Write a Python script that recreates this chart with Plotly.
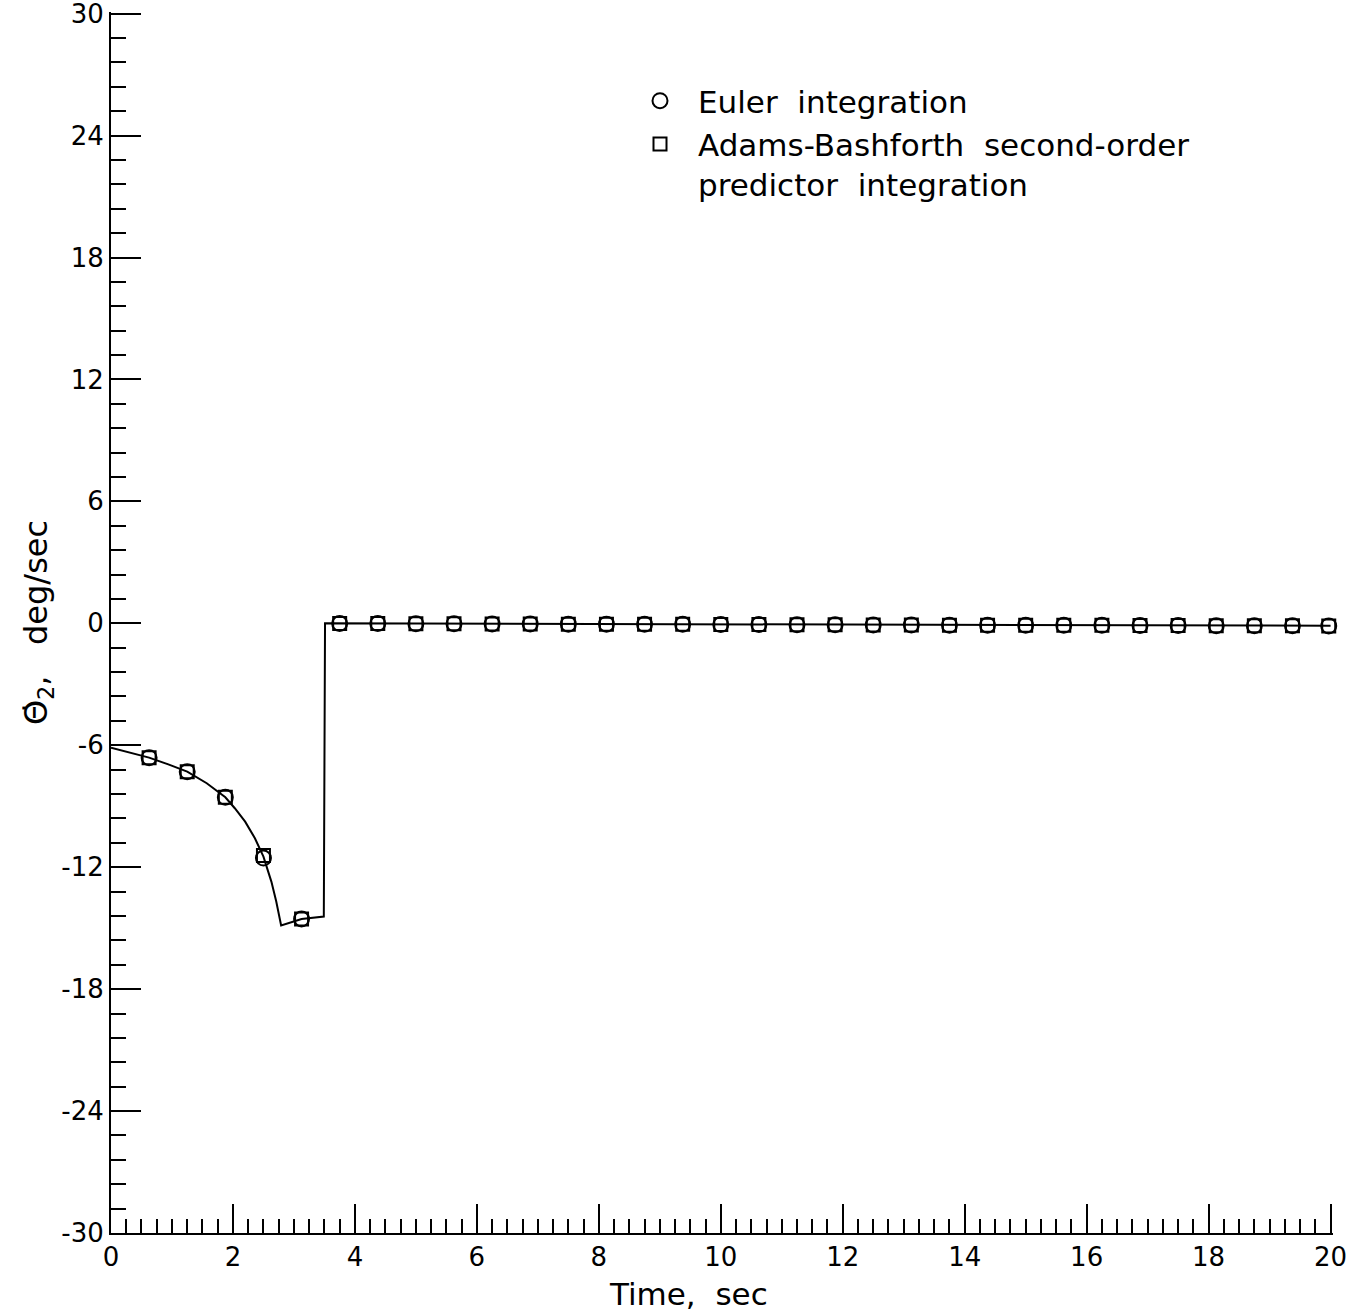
import plotly.graph_objects as go

# ---- data ----
curve_t = [0.0, 0.625, 0.94, 1.25, 1.57, 1.875, 2.03, 2.2, 2.36, 2.5, 2.63, 2.71, 2.79,
           3.125, 3.49, 3.51, 20.0]
curve_y = [-6.12, -6.61, -6.94, -7.30, -7.87, -8.56, -9.10, -9.76, -10.58, -11.48, -12.71,
           -13.69, -14.87, -14.55, -14.43, 0.0, -0.12]

marker_t = [0.625, 1.25, 1.875, 2.5, 3.125, 3.75, 4.375, 5.0, 5.625, 6.25, 6.875, 7.5,
            8.125, 8.75, 9.375, 10.0, 10.625, 11.25, 11.875, 12.5, 13.125, 13.75, 14.375,
            15.0, 15.625, 16.25, 16.875, 17.5, 18.125, 18.75, 19.375, 19.97]
euler_y = [-6.61, -7.30, -8.56, -11.55, -14.55, -0.01, -0.01, -0.02, -0.02, -0.03, -0.03,
           -0.04, -0.04, -0.05, -0.05, -0.06, -0.06, -0.07, -0.07, -0.08, -0.08, -0.09,
           -0.09, -0.10, -0.10, -0.10, -0.11, -0.11, -0.12, -0.12, -0.12, -0.13]
ab2_y = [-6.61, -7.30, -8.56, -11.42, -14.55, -0.01, -0.01, -0.02, -0.02, -0.03, -0.03,
         -0.04, -0.04, -0.05, -0.05, -0.06, -0.06, -0.07, -0.07, -0.08, -0.08, -0.09,
         -0.09, -0.10, -0.10, -0.10, -0.11, -0.11, -0.12, -0.12, -0.12, -0.13]

series_names = ["Euler\u00a0\u00a0integration",
                "Adams-Bashforth\u00a0\u00a0second-order<br>predictor\u00a0\u00a0integration"]

x_ticks = [0, 2, 4, 6, 8, 10, 12, 14, 16, 18, 20]
x_tick_text = ["0", "2", "4", "6", "8", "10", "12", "14", "16", "18", "20"]
y_ticks = [-30, -24, -18, -12, -6, 0, 6, 12, 18, 24, 30]
y_tick_text = ["-30", "-24", "-18", "-12", "-6", "0", "6", "12", "18", "24", "30"]

FONT = "DejaVu Sans"

fig = go.Figure()
fig.add_trace(go.Scatter(x=curve_t, y=curve_y, mode="lines",
                         line=dict(color="black", width=2), showlegend=False,
                         hoverinfo="skip"))
fig.add_trace(go.Scatter(x=marker_t, y=euler_y, mode="markers", name=series_names[0],
                         cliponaxis=False,
                         marker=dict(symbol="circle-open", size=15, color="black",
                                     line=dict(width=2, color="black"))))
fig.add_trace(go.Scatter(x=marker_t, y=ab2_y, mode="markers", name=series_names[1],
                         cliponaxis=False,
                         marker=dict(symbol="square-open", size=13, color="black",
                                     line=dict(width=2, color="black"))))

fig.update_layout(
    width=1366, height=1315,
    margin=dict(l=111, r=33, t=12, b=82, autoexpand=False),
    paper_bgcolor="white", plot_bgcolor="white",
    font=dict(family=FONT, color="black", size=26),
    showlegend=True,
    legend=dict(x=(622 - 111) / 1222, y=1 - (74 - 12) / 1221, xanchor="left", yanchor="top",
                font=dict(family=FONT, size=31, color="black"), itemwidth=66,
                bgcolor="rgba(0,0,0,0)", valign="top", tracegroupgap=0),
    annotations=[dict(text="Time,\u00a0\u00a0sec", xref="paper", yref="paper",
                      x=(688 - 111) / 1222, y=-(1294 - 1233) / 1221,
                      xanchor="center", yanchor="middle", showarrow=False,
                      font=dict(family=FONT, size=31, color="black"))],
)

fig.update_xaxes(range=[0, 20.04], showline=True, linecolor="black", linewidth=2,
                 mirror=False, showgrid=False, zeroline=False, automargin=False,
                 ticks="inside", ticklen=29, tickwidth=2, tickcolor="black",
                 tickmode="array", tickvals=x_ticks, ticktext=x_tick_text,
                 ticklabeloverflow="allow",
                 tickfont=dict(family=FONT, size=26, color="black"),
                 minor=dict(ticks="inside", tick0=0, dtick=0.25, ticklen=14, tickwidth=2,
                            tickcolor="black", showgrid=False))
fig.update_yaxes(range=[-30, 30.08], showline=True, linecolor="black", linewidth=2,
                 mirror=False, showgrid=False, zeroline=False, automargin=False,
                 ticks="inside", ticklen=30, tickwidth=2, tickcolor="black",
                 tickmode="array", tickvals=y_ticks, ticktext=y_tick_text,
                 ticklabeloverflow="allow",
                 tickfont=dict(family=FONT, size=26, color="black"),
                 minor=dict(ticks="inside", tick0=0, dtick=1.2, ticklen=15, tickwidth=2,
                            tickcolor="black", showgrid=False),
                 title=dict(text="\u0398\u0307<sub>2</sub>,\u00a0\u00a0\u00a0deg/sec",
                            font=dict(family=FONT, size=32, color="black"), standoff=4))

fig.write_html("out.html")
